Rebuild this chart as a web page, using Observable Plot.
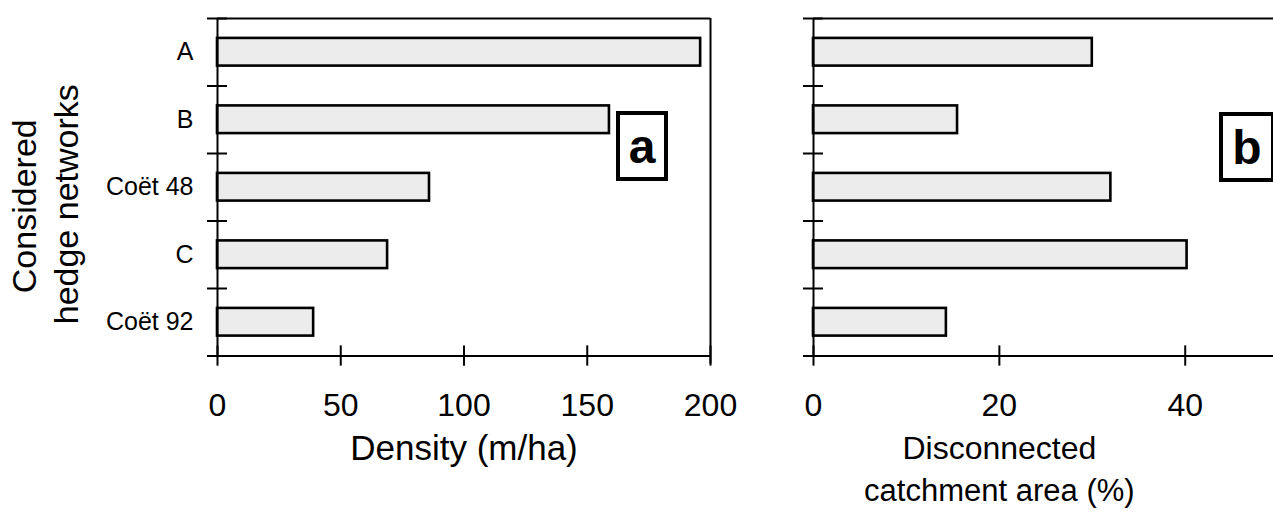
<!DOCTYPE html>
<html>
<head>
<meta charset="utf-8">
<script src="https://cdn.jsdelivr.net/npm/d3@7"></script>
<script src="https://cdn.jsdelivr.net/npm/@observablehq/plot@0.6"></script>
<style>
  html, body { margin: 0; padding: 0; background: #fff; }
  #wrap { position: relative; width: 1273px; height: 513px; overflow: hidden; font-family: "Liberation Sans", Arial, sans-serif; }
  .panel { position: absolute; top: 0; }
  .tag { position: absolute; border: 4px solid #000; box-sizing: border-box; background: #fff;
         font: bold 48px "Liberation Sans", Arial, sans-serif; display: flex; align-items: center; justify-content: center; }
</style>
</head>
<body>
<div id="wrap"></div>
<script>
const categories = ["A", "B", "Coët 48", "C", "Coët 92"];
const density = [196, 159, 86, 69, 39];
const disconnected = [30, 15.5, 32, 40.2, 14.3];
const densityTicks = [0, 50, 100, 150, 200];
const disconnectedTicks = [0, 20, 40];

const rows = categories.map((c, i) => ({cat: c, i, density: density[i], disconnected: disconnected[i]}));
const boundaries = d3.range(categories.length + 1);
const centers = categories.map((c, i) => i + 0.5);

const H = 513, mTop = 18, mBottom = 157.5;
const font = "Liberation Sans, Arial, sans-serif";
const barFill = "#ececec";

function panel({width, mLeft, mRight, xDomain, key, ticks, showY}) {
  const xPerPx = (xDomain[1] - xDomain[0]) / (width - mLeft - mRight);
  const tickHalfX = 10 * xPerPx;
  const marks = [
    Plot.rect(rows, {x1: 0, x2: key, y1: d => d.i + 0.295, y2: d => d.i + 0.705, fill: barFill, stroke: "#000", strokeWidth: 2.6}),
    Plot.ruleX([0], {y1: 0, y2: 5, stroke: "#000", strokeWidth: 2}),
    Plot.ruleY([0, 5], {x1: xDomain[0], x2: xDomain[1], stroke: "#000", strokeWidth: 2}),
    Plot.ruleY(boundaries, {x1: -tickHalfX, x2: tickHalfX, stroke: "#000", strokeWidth: 2}),
    Plot.ruleX(ticks, {y1: 4.85, y2: 5.15, stroke: "#000", strokeWidth: 2}),
    Plot.axisX({ticks, tickSize: 0, tickPadding: 37, fontSize: 32, fontFamily: font, fill: "#000", tickFormat: d => String(d)})
  ];
  if (showY) {
    marks.push(Plot.axisY({ticks: centers, tickSize: 0, tickPadding: 24, fontSize: 25, fontFamily: font, fill: "#000",
      tickFormat: v => categories[Math.floor(v)]}));
  } else {
    marks.push(Plot.axisY({ticks: [], label: null}));
  }
  return Plot.plot({
    width, height: H,
    marginLeft: mLeft, marginRight: mRight, marginTop: mTop, marginBottom: mBottom,
    x: {domain: xDomain, label: null},
    y: {domain: [0, 5], reverse: true, label: null},
    style: {fontFamily: font, background: "transparent", overflow: "visible"},
    marks
  });
}

const wrap = document.getElementById("wrap");

const left = panel({width: 760, mLeft: 217, mRight: 50, xDomain: [0, 200], key: "density", ticks: densityTicks, showY: true});
left.classList.add("panel"); left.style.left = "0px";
const leftExtra = Plot.plot({
  width: 760, height: H, marginLeft: 217, marginRight: 50, marginTop: mTop, marginBottom: mBottom,
  x: {domain: [0, 200], axis: null}, y: {domain: [0, 5], reverse: true, axis: null},
  style: {background: "transparent", overflow: "visible"},
  marks: [
    Plot.ruleX([200], {y1: 0, y2: 5.12, stroke: "#000", strokeWidth: 2}),
    Plot.text(["Density (m/ha)"], {x: 100, y: 5, dy: 93, text: d => d, fontSize: 35, fontFamily: font, fill: "#000"}),
    Plot.text(["Considered"], {x: 0, y: 2.5, dx: -192, dy: 19, rotate: -90, text: d => d, fontSize: 34, fontFamily: font, fill: "#000"}),
    Plot.text(["hedge networks"], {x: 0, y: 2.5, dx: -150, dy: 17, rotate: -90, text: d => d, fontSize: 34, fontFamily: font, fill: "#000"})
  ]
});
leftExtra.classList.add("panel"); leftExtra.style.left = "0px";

const right = panel({width: 513, mLeft: 53, mRight: 0, xDomain: [0, 49.5], key: "disconnected", ticks: disconnectedTicks, showY: false});
right.classList.add("panel"); right.style.left = "760px";
const rightExtra = Plot.plot({
  width: 513, height: H, marginLeft: 53, marginRight: 0, marginTop: mTop, marginBottom: mBottom,
  x: {domain: [0, 49.5], axis: null}, y: {domain: [0, 5], reverse: true, axis: null},
  style: {background: "transparent", overflow: "visible"},
  marks: [
    Plot.text(["Disconnected"], {x: 20, y: 5, dy: 93, text: d => d, fontSize: 32, fontFamily: font, fill: "#000"}),
    Plot.text(["catchment area (%)"], {x: 20, y: 5, dy: 135, text: d => d, fontSize: 31, fontFamily: font, fill: "#000"})
  ]
});
rightExtra.classList.add("panel"); rightExtra.style.left = "760px";

wrap.append(left, leftExtra, right, rightExtra);

function tag(txt, l, t, w, h) {
  const d = document.createElement("div");
  d.className = "tag"; d.textContent = txt;
  Object.assign(d.style, {left: l + "px", top: t + "px", width: w + "px", height: h + "px"});
  wrap.append(d);
}
tag("a", 616, 111, 52, 70);
tag("b", 1219, 112, 56, 70);
</script>
</body>
</html>
